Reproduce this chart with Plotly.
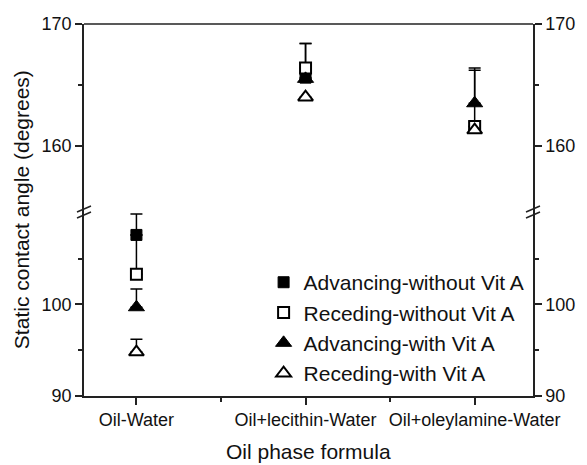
import plotly.graph_objects as go

categories = ["Oil-Water", "Oil+lecithin-Water", "Oil+oleylamine-Water"]
series_names = ["Advancing-without Vit A", "Receding-without Vit A",
                "Advancing-with Vit A", "Receding-with Vit A"]
adv_without = [107.6, 165.6, 161.6]
adv_without_err = [2.3, 2.8, 4.6]
rec_without = [103.3, 166.4, 161.6]
rec_without_err = [4.3, 2.0, 0.0]
adv_with = [99.7, 165.5, 163.5]
adv_with_err = [2.0, 0.0, 2.9]
rec_with = [94.8, 164.0, 161.3]
rec_with_err = [1.4, 0.0, 0.0]

lower_range = [90, 110]
upper_range = [154.5, 170]
BREAK = 0.492
FONT = "Liberation Sans, Arial, sans-serif"
LC = "#222222"

styles = [
    dict(symbol="square", size=11, color="black", line=dict(width=1, color="black")),
    dict(symbol="square", size=11, color="white", line=dict(width=2, color="black")),
    dict(symbol="triangle-up", size=14, color="black", line=dict(width=1, color="black")),
    dict(symbol="triangle-up", size=13, color="white", line=dict(width=2, color="black")),
]
all_vals = [adv_without, rec_without, adv_with, rec_with]
all_errs = [adv_without_err, rec_without_err, adv_with_err, rec_with_err]

fig = go.Figure()
xs = list(range(len(categories)))
for i, (name, vals, errs, st) in enumerate(zip(series_names, all_vals, all_errs, styles)):
    for seg, yax in (("low", "y"), ("high", "y2")):
        idx = [k for k, v in enumerate(vals) if (v < 130) == (seg == "low")]
        fig.add_trace(go.Scatter(
            x=[xs[k] for k in idx], y=[vals[k] for k in idx],
            xaxis="x", yaxis=yax, mode="markers", name=name,
            legendgroup=name, showlegend=(seg == "low"),
            marker=st, cliponaxis=False,
            error_y=dict(type="data", symmetric=False,
                         array=[errs[k] for k in idx],
                         arrayminus=[0] * len(idx),
                         color="black", thickness=1.5, width=6),
        ))

# invisible traces for the right-hand mirrored axes
fig.add_trace(go.Scatter(x=[None], y=[None], xaxis="x", yaxis="y3", showlegend=False))
fig.add_trace(go.Scatter(x=[None], y=[None], xaxis="x", yaxis="y4", showlegend=False))

tickfont = dict(family=FONT, size=18, color="#111")
yl = dict(range=lower_range, domain=[0, BREAK], tickmode="array", tickvals=[90, 100],
          ticks="outside", ticklen=7, tickwidth=1.5, tickcolor=LC,
          showline=True, linecolor=LC, linewidth=1.5, showgrid=False, zeroline=False,
          tickfont=tickfont,
          minor=dict(tickmode="array", tickvals=[95, 105], ticks="outside", ticklen=4,
                     tickwidth=1.5, tickcolor=LC, showgrid=False))
yu = dict(range=upper_range, domain=[BREAK, 1], tickmode="array", tickvals=[160, 170],
          ticks="outside", ticklen=7, tickwidth=1.5, tickcolor=LC,
          showline=True, linecolor=LC, linewidth=1.5, showgrid=False, zeroline=False,
          tickfont=tickfont,
          minor=dict(tickmode="array", tickvals=[165], ticks="outside", ticklen=4,
                     tickwidth=1.5, tickcolor=LC, showgrid=False))

fig.update_layout(
    width=587, height=465,
    margin=dict(l=84, r=46, t=24, b=69),
    paper_bgcolor="white", plot_bgcolor="white",
    font=dict(family=FONT, color="#111"),
    xaxis=dict(range=[-0.31, 2.345], tickmode="array", tickvals=xs, ticktext=categories,
               ticks="outside", ticklen=7, tickwidth=1.5, tickcolor=LC,
               showline=True, linecolor=LC, linewidth=1.5, showgrid=False, zeroline=False,
               tickfont=tickfont, anchor="y",
               minor=dict(tickmode="array", tickvals=[0.5, 1.5], ticks="outside",
                          ticklen=4, tickwidth=1.5, tickcolor=LC, showgrid=False)),
    yaxis=dict(anchor="x", side="left", **yl),
    yaxis2=dict(anchor="x", side="left", **yu),
    yaxis3=dict(anchor="x", side="right", overlaying="y", **yl),
    yaxis4=dict(anchor="x", side="right", overlaying="y2", **yu),
    legend=dict(x=0.40, y=0.36, xanchor="left", yanchor="top",
                font=dict(family=FONT, size=21, color="#111"),
                bgcolor="rgba(0,0,0,0)", traceorder="normal"),
    showlegend=True,
    annotations=[
        dict(text="Oil phase formula", xref="paper", yref="paper", x=0.501, y=-0.15,
             xanchor="center", yanchor="middle", showarrow=False,
             font=dict(family=FONT, size=21, color="#111")),
        dict(text="Static contact angle (degrees)", xref="paper", yref="paper",
             x=-0.1400, y=0.5, xanchor="center", yanchor="middle", textangle=-90,
             showarrow=False, font=dict(family=FONT, size=21, color="#111")),
    ],
    shapes=[
        dict(type="line", xref="paper", yref="paper", x0=0, x1=1, y0=1, y1=1,
             line=dict(color=LC, width=1.5)),
    ] + [
        dict(type="line", xref="paper", yref="paper", xsizemode="pixel", ysizemode="pixel",
             xanchor=xa, yanchor=BREAK, x0=-7, x1=7, y0=dy - 3, y1=dy + 3,
             line=dict(color=LC, width=1.5))
        for xa in (0, 1) for dy in (4, -2)
    ],
)

fig.write_html("out.html")
